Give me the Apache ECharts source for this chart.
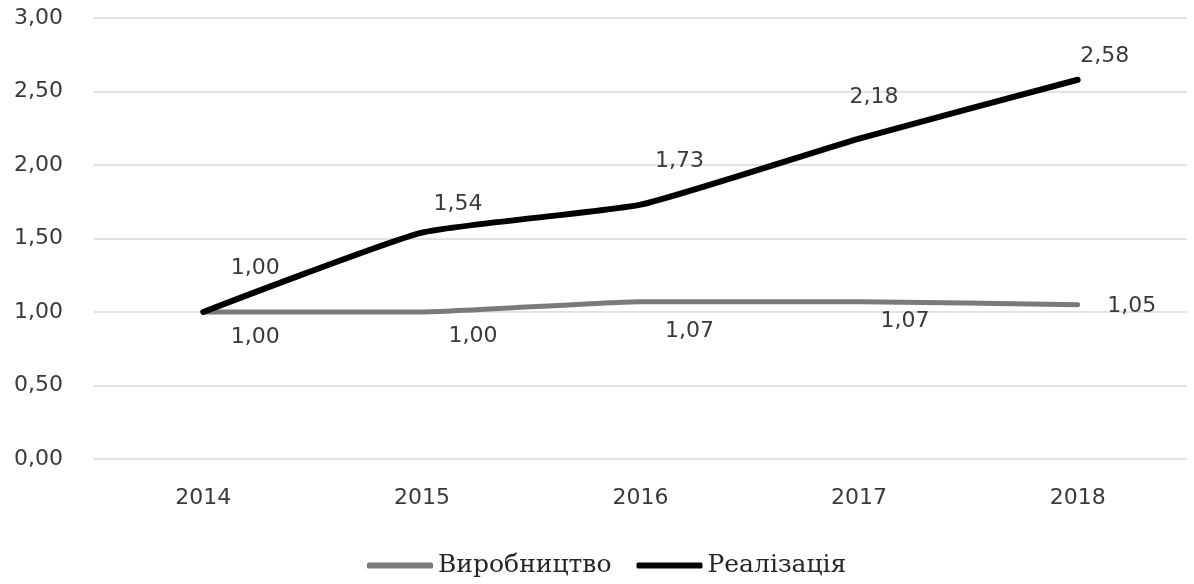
<!DOCTYPE html>
<html>
<head>
<meta charset="utf-8">
<title>Виробництво і реалізація</title>
<script src="https://cdn.jsdelivr.net/npm/echarts@6/dist/echarts.min.js"></script>
<style>
  html, body { margin: 0; padding: 0; background: #ffffff; }
  #chart { width: 1194px; height: 584px; }
</style>
</head>
<body>
<div id="chart"></div>
<script>
// Years on the category axis
const years = ['2014', '2015', '2016', '2017', '2018'];
// Indices (2014 = 1,00)
const production = [1.00, 1.00, 1.07, 1.07, 1.05];
const sales = [1.00, 1.54, 1.73, 2.18, 2.58];
// Value axis ticks
const yMin = 0;
const yMax = 3;
const yStep = 0.5;

// Label placement around each point, in pixels [dx, dy]
const salesLabelOffsets = [[52, -44], [36, -28], [39, -43], [15, -41], [27, -23]];
const productionLabelOffsets = [[52, 25], [51, 24], [49, 30], [46, 20], [54, 2]];

const fmt = v => Number(v).toFixed(2).replace('.', ',');
const textColor = '#3a3a3a';
const numFont = 'DejaVu Sans';

function withLabels(values, offsets) {
  return values.map((v, i) => ({
    value: v,
    label: { offset: offsets[i] }
  }));
}

const labelBase = {
  show: true,
  position: 'inside',
  align: 'center',
  verticalAlign: 'middle',
  color: textColor,
  fontFamily: numFont,
  fontSize: 22,
  formatter: p => fmt(p.value)
};

const chart = echarts.init(document.getElementById('chart'), null, { renderer: 'canvas' });
chart.setOption({
  animation: false,
  backgroundColor: '#ffffff',
  grid: { left: 94, right: 7, top: 18, bottom: 125, containLabel: false },
  xAxis: {
    type: 'category',
    data: years,
    boundaryGap: true,
    axisLine: { show: false },
    axisTick: { show: false },
    axisLabel: {
      color: textColor,
      fontFamily: numFont,
      fontSize: 22,
      margin: 28
    }
  },
  yAxis: {
    type: 'value',
    min: yMin,
    max: yMax,
    interval: yStep,
    axisLine: { show: false },
    axisTick: { show: false },
    splitLine: { lineStyle: { color: '#d9d9d9', width: 1.5 } },
    axisLabel: {
      color: textColor,
      fontFamily: numFont,
      fontSize: 22,
      margin: 31,
      formatter: v => fmt(v)
    }
  },
  legend: {
    left: 362,
    top: 548,
    itemGap: 25,
    itemWidth: 66,
    itemHeight: 6,
    icon: 'roundRect',
    textStyle: {
      fontFamily: 'DejaVu Serif',
      fontSize: 25,
      color: '#262626'
    },
    data: ['Виробництво', 'Реалізація']
  },
  series: [
    {
      name: 'Виробництво',
      type: 'line',
      data: withLabels(production, productionLabelOffsets),
      smooth: 0.15,
      symbol: 'circle',
      symbolSize: 1,
      lineStyle: { color: '#7a7a7a', width: 5, cap: 'round' },
      itemStyle: { color: '#7a7a7a' },
      label: labelBase,
      z: 2
    },
    {
      name: 'Реалізація',
      type: 'line',
      data: withLabels(sales, salesLabelOffsets),
      smooth: 0.15,
      symbol: 'circle',
      symbolSize: 1,
      lineStyle: { color: '#000000', width: 6, cap: 'round' },
      itemStyle: { color: '#000000' },
      label: labelBase,
      z: 3
    }
  ]
});
</script>
</body>
</html>
